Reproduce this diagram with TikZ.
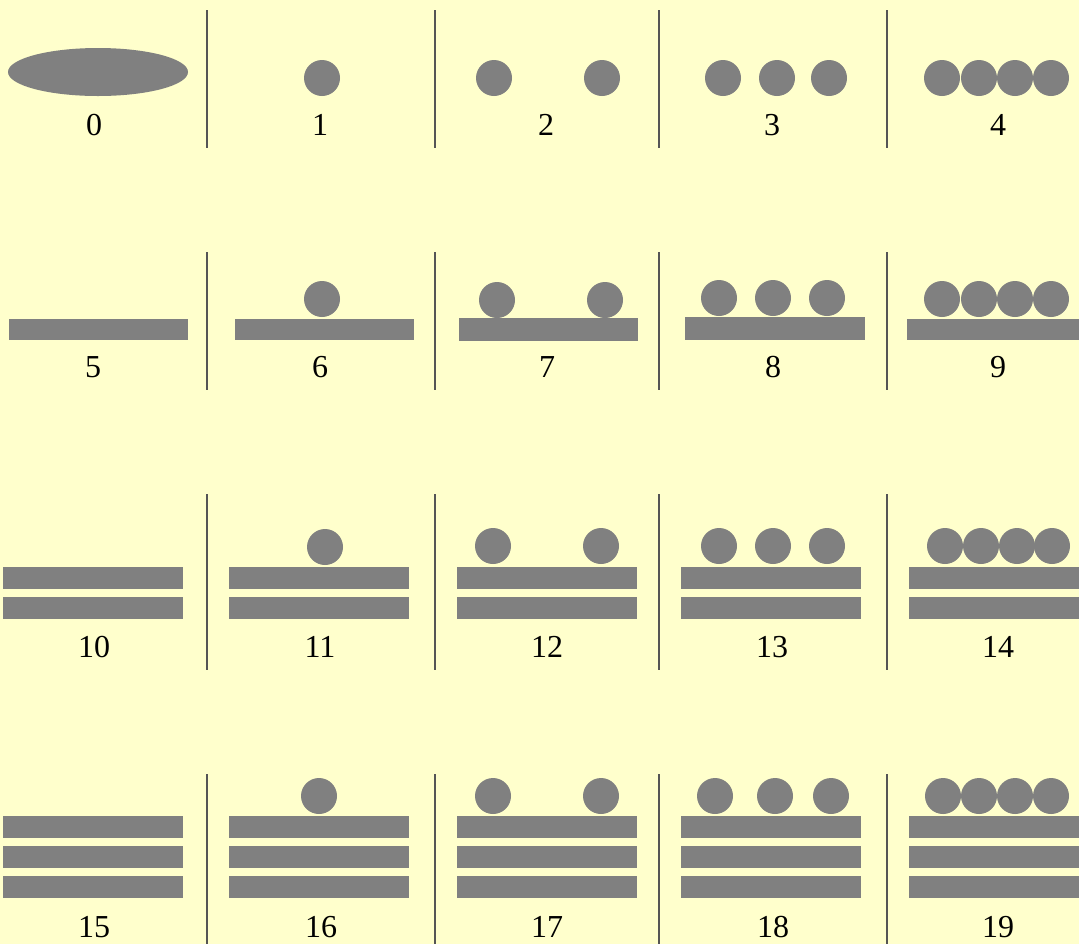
\documentclass[tikz,border=0pt]{standalone}
\usepackage{fontspec}
\setmainfont{Liberation Serif}
\usepackage{tikz}
\definecolor{mayaBack}{RGB}{255,255,204}
\definecolor{mayaGray}{RGB}{128,128,128}
\definecolor{mayaRule}{RGB}{85,85,85}

\begin{document}
\begin{tikzpicture}[x=0.5pt,y=-0.5pt,
  glyph/.style={fill=mayaGray},
  rule/.style={mayaRule, line width=0.7pt},
  digit/.style={anchor=base, inner sep=0pt, font=\fontsize{16}{19}\selectfont}]
\fill[mayaBack] (0,0) rectangle (1079,944);
\useasboundingbox (0,0) rectangle (1079,944);

% column rules
\foreach \a/\b in {10/148,252/390,494/670,774/944}{
  \foreach \x in {207,435,659,887}
    \draw[rule] (\x,\a) -- (\x,\b);
}

% zero shell
\fill[glyph] (98,72) ellipse[x radius=45pt, y radius=12pt];

% bars
\fill[glyph] (9,319) rectangle (188,340);
\fill[glyph] (235,319) rectangle (414,340);
\fill[glyph] (459,318) rectangle (638,341);
\fill[glyph] (685,317) rectangle (865,340);
\fill[glyph] (907,319) rectangle (1079,340);
\foreach \a/\b in {3/183,229/409,457/637,681/861,909/1079}{
  \fill[glyph] (\a,567) rectangle (\b,589);
  \fill[glyph] (\a,597) rectangle (\b,619);
  \fill[glyph] (\a,816) rectangle (\b,838);
  \fill[glyph] (\a,846) rectangle (\b,868);
  \fill[glyph] (\a,876) rectangle (\b,898);
}

% dots
\foreach \x/\y in {322/78, 494/78,602/78, 723/78,777/78,829/78,
    942/78,979/78,1015/78,1051/78,
    322/299, 497/300,605/300, 719/298,773/298,827/298,
    942/299,979/299,1015/299,1051/299,
    325/547, 493/546,601/546, 719/546,773/546,827/546,
    945/546,981/546,1017/546,1052/546,
    319/796, 493/796,601/796, 715/796,775/796,831/796,
    943/796,979/796,1015/796,1051/796}
  \fill[glyph] (\x,\y) circle[radius=9pt];

% numbers
\foreach \n/\x/\y in {0/94/135,1/320/135,2/546/135,3/772/135,4/998/135,
    5/93/377,6/320/377,7/547/377,8/773/377,9/998/377,
    10/94/657,11/320/657,12/547/657,13/772/657,14/998/657,
    15/94/937,16/321/937,17/547/937,18/773/937,19/998/937}
  \node[digit] (num\n) at (\x,\y) {\n};
\end{tikzpicture}
\end{document}
